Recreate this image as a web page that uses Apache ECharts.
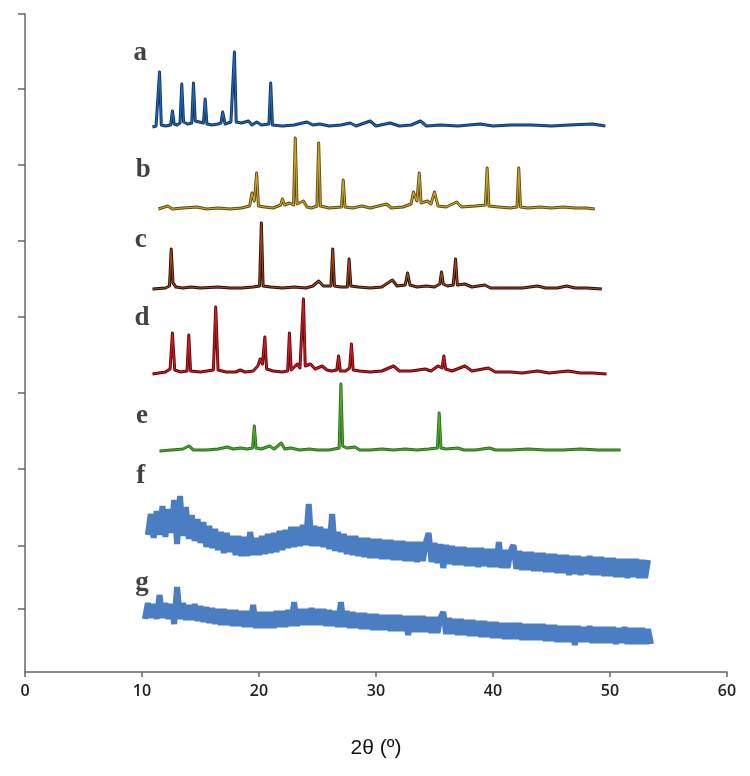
<!DOCTYPE html>
<html>
<head>
<meta charset="utf-8">
<script src="https://cdn.jsdelivr.net/npm/echarts@6/dist/echarts.min.js"></script>
<style>html,body{margin:0;padding:0;background:#fff}#c{width:750px;height:776px}</style>
</head>
<body>
<div id="c"></div>
<script>
// ---- data (2θ in degrees, intensity in arbitrary units relative to each trace's baseline) ----
const xTicks = [0, 10, 20, 30, 40, 50, 60];
const yTickValues = [63, 126, 203, 279, 355, 431, 507, 583, 658];
const traceNames = ['a', 'b', 'c', 'd', 'e', 'f', 'g'];
const traceOffsets = [545, 463, 383, 298, 221, 0, 0];

const traceA = [[10.9,0],[11.2,1],[11.35,3],[11.5,55],[11.65,2],[12.0,1],[12.45,2],[12.6,16],[12.75,3],[13.0,2],[13.25,4],[13.4,43],[13.55,5],[13.9,3],[14.25,4],[14.4,44],[14.55,6],[15.25,4],[15.4,28],[15.55,3],[16.0,2],[16.5,3],[16.75,4],[16.9,15],[17.1,3],[17.6,5],[17.75,5],[17.9,75],[18.05,5],[18.5,4],[19.1,6],[19.4,2],[19.8,5],[20.2,2],[20.85,3],[21.0,44],[21.15,2],[22.0,1],[23.0,2],[24.1,5],[24.6,2],[25.2,3],[26.0,1],[27.0,2],[27.8,4],[28.3,1],[29.5,6],[30.0,1],[31.2,4],[32.0,1],[33.0,2],[33.8,6],[34.3,1],[35.5,2],[37.0,1],[38.9,3],[40.0,1],[41.5,2],[43.3,2],[45.0,1],[46.5,2],[48.5,3],[49.6,1]];

const traceB = [[11.4,0],[12.2,3],[12.6,0],[13.5,1],[14.7,2],[15.5,0],[16.5,1],[17.5,0],[18.5,1],[19.2,3],[19.4,16],[19.6,8],[19.8,36],[19.95,3],[20.5,2],[21.2,1],[21.85,4],[22.0,10],[22.2,4],[22.6,6],[22.95,4],[23.1,71],[23.25,5],[23.8,8],[24.1,2],[24.5,1],[24.95,3],[25.1,66],[25.25,3],[26.0,1],[27.05,2],[27.2,29],[27.35,2],[28.0,1],[28.8,3],[29.5,1],[30.9,5],[31.3,1],[32.3,2],[33.0,5],[33.2,17],[33.5,8],[33.7,36],[33.85,6],[34.4,8],[34.7,5],[35.0,17],[35.3,3],[36.0,2],[36.9,7],[37.3,2],[38.5,3],[39.35,4],[39.5,41],[39.65,3],[40.5,2],[41.5,1],[42.05,2],[42.2,41],[42.35,2],[43.0,1],[44.0,2],[45.0,1],[46.0,2],[47.0,1],[48.0,1],[48.7,0]];

const traceC = [[10.9,0],[12.0,1],[12.35,3],[12.5,40],[12.65,6],[12.9,2],[13.5,1],[14.2,2],[15.0,1],[16.5,2],[17.5,1],[18.5,1],[19.5,2],[20.05,3],[20.2,66],[20.35,3],[21.0,2],[22.0,1],[23.0,2],[24.0,1],[24.6,3],[25.1,8],[25.5,3],[26.15,3],[26.3,40],[26.45,3],[27.0,2],[27.55,2],[27.7,30],[27.85,3],[28.5,2],[29.5,1],[30.5,2],[31.4,9],[31.8,3],[32.5,4],[32.7,16],[32.9,4],[33.5,2],[34.3,3],[35.0,2],[35.45,5],[35.6,17],[35.75,5],[36.1,3],[36.6,4],[36.8,30],[36.95,4],[37.6,5],[38.2,2],[39.3,4],[39.8,1],[41.0,1],[42.5,1],[43.8,3],[44.5,1],[45.5,1],[46.3,3],[47.0,1],[48.0,1],[49.3,0]];

const traceD = [[10.9,0],[12.0,2],[12.4,5],[12.6,41],[12.8,4],[13.3,2],[13.85,3],[14.0,39],[14.15,3],[15.0,2],[16.1,4],[16.3,67],[16.5,4],[17.2,2],[18.0,2],[18.4,4],[18.8,2],[19.5,3],[19.9,8],[20.1,15],[20.3,10],[20.5,37],[20.65,5],[21.2,3],[22.0,2],[22.45,3],[22.6,41],[22.75,4],[23.1,8],[23.3,10],[23.5,6],[23.8,75],[23.95,8],[24.4,10],[24.8,5],[25.4,8],[25.8,4],[26.2,3],[26.65,4],[26.8,18],[26.95,3],[27.4,3],[27.75,6],[27.9,30],[28.05,4],[28.6,3],[29.5,2],[30.5,3],[31.5,8],[32.0,3],[33.0,3],[34.2,5],[34.7,3],[35.3,8],[35.65,6],[35.8,18],[35.95,5],[36.5,3],[37.6,8],[38.2,3],[39.6,6],[40.2,2],[41.5,2],[42.5,1],[43.8,3],[44.8,1],[46.4,3],[47.5,1],[48.5,1],[49.7,0]];

const traceE = [[11.5,0],[12.5,1],[13.5,2],[14.0,5],[14.4,1],[15.5,1],[16.5,2],[17.3,4],[17.8,2],[18.4,3],[19.0,2],[19.45,3],[19.6,25],[19.75,3],[20.2,2],[20.9,5],[21.3,2],[21.9,8],[22.2,2],[22.7,3],[23.5,1],[24.3,2],[25.0,1],[26.0,1],[26.85,3],[27.0,67],[27.15,5],[27.5,3],[28.2,4],[28.6,1],[29.5,1],[30.5,2],[31.5,1],[32.5,2],[33.5,1],[34.5,2],[35.25,3],[35.4,38],[35.55,3],[36.0,2],[37.0,3],[37.5,1],[38.5,1],[39.7,3],[40.2,1],[41.5,1],[43.0,2],[44.5,1],[46.0,1],[47.5,2],[49.0,1],[50.9,1]];

// amorphous patterns, sampled every 0.25° (absolute stacked intensity)
const fStart = 10.5, fStep = 0.25;
const fValues = [
137,158,
134,161,137,166, 135,163,139,172, 128,176,136,165, 133,157,131,153,
129,150,125,146, 124,143,122,140, 119,139,120,136, 117,136,116,135,
116,140,117,134, 117,136,118,138, 119,139,120,141, 122,142,124,145,
125,145,126,147, 127,168,126,146, 126,145,125,143, 123,158,121,140,
120,138,118,136, 117,136,116,134, 115,134,114,133, 114,133,113,132,
113,132,112,131, 112,131,111,130, 111,130,110,130, 111,129,139,110,
129,109,128,104, 127,108,126,107, 125,107,125,106, 124,106,124,105,
124,106,123,105, 123,105,130,104, 122,104,121,127, 103,121,102,120,
102,120,101,119, 101,119,100,118, 100,118,99,117, 99,117,97,116,
98,116,97,115, 98,116,97,115, 97,115,96,114, 96,114,95,113,
95,113,94,113, 95,113,94,112,
94,112];
const gStart = 10.25, gStep = 0.25;
const gValues = [
53,69,54,
68,53,77,54, 69,53,68,48, 85,53,69,52, 67,52,68,51, 66,50,65,49,
64,48,63,47, 63,47,62,46, 62,46,61,45, 61,45,67,44, 60,44,60,44,
60,44,61,45, 61,45,62,46, 70,46,63,47, 63,47,64,47, 63,47,63,46,
62,46,61,45, 70,45,61,44, 60,44,59,43, 59,43,58,42, 58,42,57,42,
57,41,57,41, 57,41,56,37, 56,40,56,40, 56,40,55,39, 55,39,54,60,
38,54,38,53, 37,53,37,52, 36,52,36,51, 35,51,35,50, 34,50,34,49,
33,49,33,49, 33,49,32,48, 32,48,32,48, 32,48,31,47, 31,47,30,46,
30,46,30,46, 27,46,30,45, 30,46,29,45, 29,45,29,45, 29,45,28,44,
29,45,28,44, 28,44,28,44,
28,43,28];

// trace label positions [2θ, intensity]
const labelPos = [[9.85,619],[10.1,502],[9.9,432],[10.0,354],[10.0,256],[9.9,196],[10.0,89]];

const traceOutline = ['#10345f', '#5e4c10', '#2a0f06', '#5c080c', '#2c6e18', '#4a7dc2', '#4a7dc2'];
const traceColors = ['#2467b8', '#c8a42c', '#a4461c', '#d41a22', '#4cae2c', '#4a7dc2', '#4a7dc2'];

// ---- build ----
const crystal = [traceA, traceB, traceC, traceD, traceE];
const series = [];
crystal.forEach((tr, i) => {
  const data = tr.map(p => [p[0], p[1] + traceOffsets[i]]);
  series.push({
    name: traceNames[i], type: 'line', showSymbol: false, symbol: 'none', data: data,
    lineStyle: { color: traceOutline[i], width: 3, join: 'round' }, z: 3
  });
  series.push({
    name: traceNames[i] + '-core', type: 'line', showSymbol: false, symbol: 'none', data: data,
    lineStyle: { color: traceColors[i], width: 1.2, join: 'round' }, z: 4
  });
});
[[fStart, fStep, fValues], [gStart, gStep, gValues]].forEach((t, k) => {
  const i = 5 + k;
  series.push({
    name: traceNames[i], type: 'line', showSymbol: false, symbol: 'none',
    data: t[2].map((v, j) => [t[0] + j * t[1], v + traceOffsets[i]]),
    lineStyle: { color: traceColors[i], width: 6, join: 'bevel' },
    z: 3
  });
});
series.push({
  type: 'scatter', symbol: 'circle', symbolSize: 2,
  itemStyle: { color: 'rgba(255,255,255,0)' },
  data: labelPos.map((p, i) => [p[0], p[1], traceNames[i]]),
  label: {
    show: true, position: 'inside',
    formatter: p => p.data[2],
    fontFamily: 'Liberation Serif', fontWeight: 'bold', fontSize: 27, color: '#111'
  },
  silent: true,
  z: 5
});

const chart = echarts.init(document.getElementById('c'), null, { renderer: 'canvas' });
chart.setOption({
  animation: false,
  backgroundColor: '#fff',
  grid: { left: 25, right: 23, top: 14, bottom: 104, containLabel: false },
  xAxis: {
    type: 'value', min: xTicks[0], max: xTicks[xTicks.length - 1], interval: 10,
    axisLine: { show: true, lineStyle: { color: '#666', width: 1.5 } },
    axisTick: { show: true, inside: false, length: 5, lineStyle: { color: '#666', width: 1.5 } },
    axisLabel: { margin: 11, fontSize: 16, color: '#222', fontFamily: 'Open Sans', fontWeight: 600 },
    splitLine: { show: false },
    name: '2θ (º)', nameLocation: 'middle', nameGap: 66,
    nameTextStyle: { fontSize: 21, color: '#111', fontFamily: 'Liberation Sans' }
  },
  yAxis: {
    type: 'value', min: 0, max: 658,
    axisLine: { show: true, lineStyle: { color: '#666', width: 1.5 } },
    axisTick: { show: true, inside: false, length: 7, customValues: yTickValues, lineStyle: { color: '#666', width: 1.5 } },
    axisLabel: { show: false },
    splitLine: { show: false }
  },
  series: series
});
</script>
</body>
</html>
